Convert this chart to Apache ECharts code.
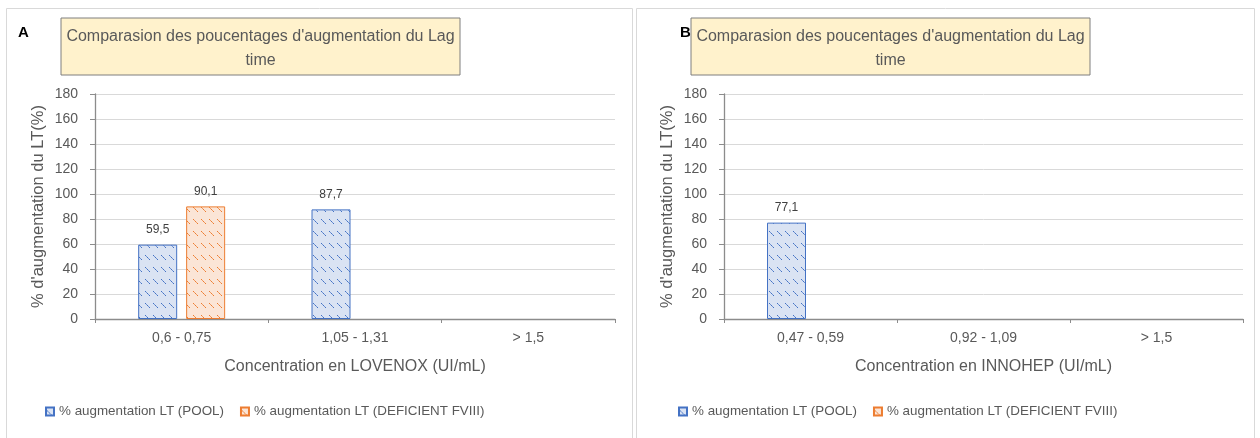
<!DOCTYPE html>
<html><head><meta charset="utf-8">
<script src="https://cdn.jsdelivr.net/npm/echarts@6/dist/echarts.min.js"></script>
<style>html,body{margin:0;padding:0;background:#fff}#c{width:1260px;height:438px}</style>
</head><body><div id="c"></div>
<script>
const categoriesA = ['0,6 - 0,75', '1,05 - 1,31', '> 1,5'];
const categoriesB = ['0,47 - 0,59', '0,92 - 1,09', '> 1,5'];
const poolA = [59.5, 87.7, null];
const deficientA = [90.1, null, null];
const poolB = [77.1, null, null];
const deficientB = [null, null, null];
const seriesNames = ['% augmentation LT (POOL)', '% augmentation LT (DEFICIENT FVIII)'];
const titleText = "Comparasion des poucentages d'augmentation du Lag\ntime";
const xNameA = 'Concentration en LOVENOX (UI/mL)';
const xNameB = 'Concentration en INNOHEP (UI/mL)';
const yName = "% d'augmentation du LT(%)";

const FONT = "'Liberation Sans', sans-serif";
function makePattern(bg, fg){
  const c = document.createElement('canvas'); c.width = 8; c.height = 12;
  const x = c.getContext('2d'); x.fillStyle = bg; x.fillRect(0,0,8,12);
  x.fillStyle = fg;
  for (let i = 0; i < 5; i++) { x.globalAlpha = (i % 2 === 0) ? 1 : 0.7; x.fillRect(1 + i, 3 + i, 1, 1); }
  return c;
}
const blueFill = { image: makePattern('#dae3f3', '#4472c4'), repeat: 'repeat' };
const orangeFill = { image: makePattern('#fbe5d6', '#ed7d31'), repeat: 'repeat' };

const fmt = p => (p.value == null ? '' : String(p.value).replace('.', ','));
function barSeries(name, data, xi, fill, border){
  return { name, type: 'bar', xAxisIndex: xi, yAxisIndex: xi, data,
    barWidth: 39, barGap: '23%',
    itemStyle: { color: fill, borderColor: border, borderWidth: 1 },
    label: { show: true, position: 'top', distance: 9, formatter: fmt, color: '#404040', fontSize: 12, fontFamily: FONT } };
}
function xAxis(gi, cats, name){
  return { type: 'category', gridIndex: gi, data: cats, name, nameLocation: 'middle', nameGap: 40,
    nameTextStyle: { color: '#595959', fontSize: 16, fontFamily: FONT },
    axisLine: { lineStyle: { color: '#8c8c8c', width: 1.3 } },
    axisTick: { show: true, length: 4, lineStyle: { color: '#8c8c8c' } },
    axisLabel: { color: '#595959', fontSize: 14, fontFamily: FONT, margin: 12 } };
}
function yAxis(gi){
  return { type: 'value', gridIndex: gi, min: 0, max: 180, interval: 20, name: yName, nameLocation: 'middle', nameGap: 48,
    nameTextStyle: { color: '#595959', fontSize: 16.5, fontFamily: FONT },
    axisLine: { show: true, lineStyle: { color: '#8c8c8c', width: 1.3 } },
    axisTick: { show: true, length: 5, lineStyle: { color: '#8c8c8c' } },
    axisLabel: { color: '#595959', fontSize: 14, fontFamily: FONT, margin: 17 },
    splitLine: { lineStyle: { color: '#d9d9d9' } } };
}
function titleBox(x){
  return { type: 'group', x: x, y: 18, children: [
    { type: 'rect', shape: { x: 0, y: 0, width: 399, height: 57 }, style: { fill: '#fff2cc', stroke: '#7f7f7f', lineWidth: 1 } },
    { type: 'text', x: 199.5, y: 7, style: { text: titleText, textAlign: 'center', fill: '#595959', font: "16px " + FONT, lineHeight: 24 } }
  ]};
}
const legendBase = { itemWidth: 8, itemHeight: 8, itemGap: 16, icon: 'rect', selectedMode: false, padding: 0,
  textStyle: { color: '#595959', fontSize: 13.4, fontFamily: FONT, padding: [0, 0, 0, 0] } };
const chart = echarts.init(document.getElementById('c'));
chart.setOption({
  animation: false,
  graphic: [
    { type: 'rect', shape: { x: 6.5, y: 8.5, width: 626, height: 440 }, style: { fill: 'none', stroke: '#d9d9d9' } },
    { type: 'rect', shape: { x: 636.5, y: 8.5, width: 618, height: 440 }, style: { fill: 'none', stroke: '#d9d9d9' } },
    { type: 'text', x: 18, y: 25, style: { text: 'A', fill: '#000', font: "bold 15px " + FONT } },
    { type: 'text', x: 680, y: 25, style: { text: 'B', fill: '#000', font: "bold 15px " + FONT } },
    titleBox(61), titleBox(691)
  ],
  grid: [
    { left: 95, top: 94, width: 520, height: 225 },
    { left: 724, top: 94, width: 519, height: 225 }
  ],
  xAxis: [xAxis(0, categoriesA, xNameA), xAxis(1, categoriesB, xNameB)],
  yAxis: [yAxis(0), yAxis(1)],
  legend: [
    Object.assign({ left: 45, top: 405, data: seriesNames.slice() }, legendBase),
    Object.assign({ left: 678, top: 405, data: seriesNames.slice() }, legendBase)
  ],
  series: [
    barSeries(seriesNames[0], poolA, 0, blueFill, '#4472c4'),
    barSeries(seriesNames[1], deficientA, 0, orangeFill, '#ed7d31'),
    barSeries(seriesNames[0], poolB, 1, blueFill, '#4472c4'),
    barSeries(seriesNames[1], deficientB, 1, orangeFill, '#ed7d31')
  ]
});
</script></body></html>
